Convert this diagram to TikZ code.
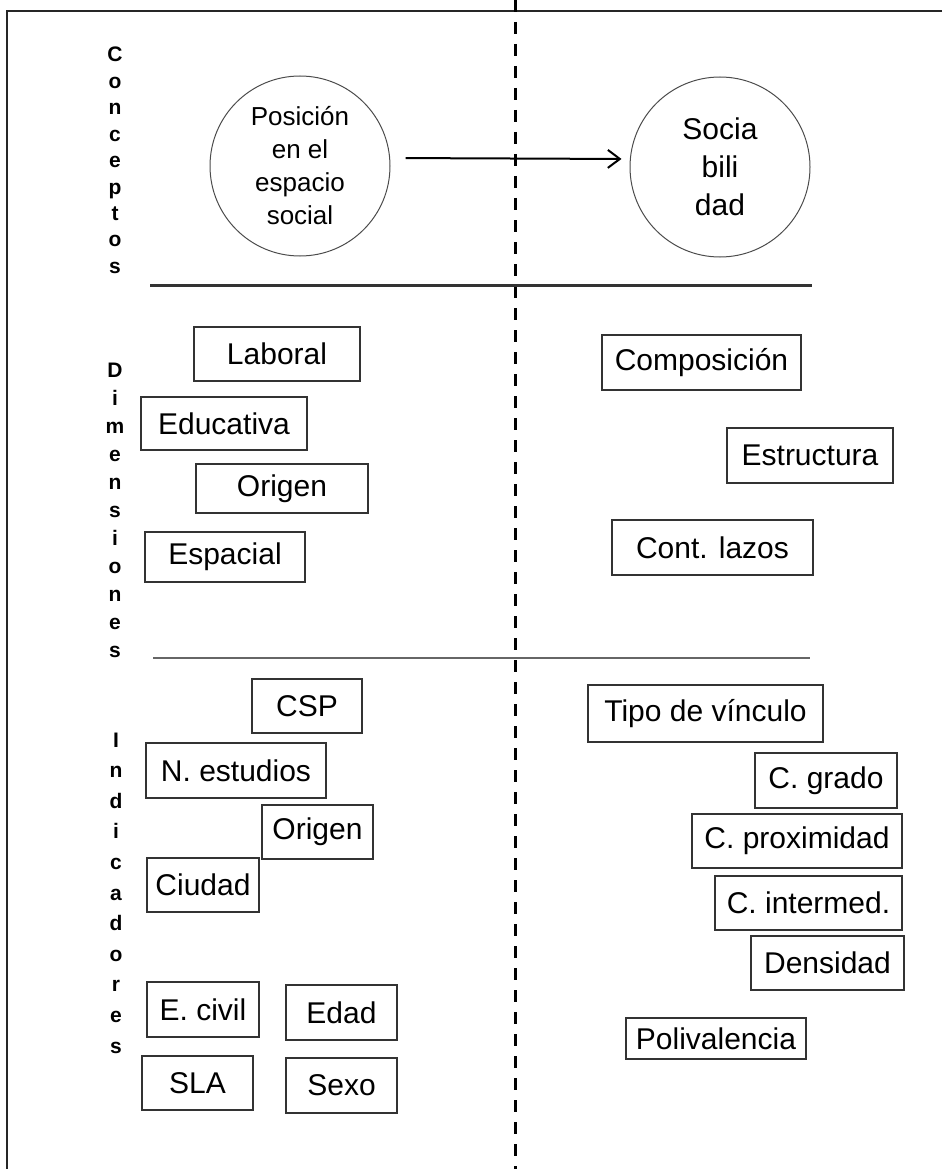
\documentclass[tikz,border=0pt]{standalone}
\usepackage{fontspec}
\setmainfont{Liberation Sans}
\usetikzlibrary{arrows.meta,positioning}

\tikzset{
  box/.style={draw=black!80, line width=1.3pt, inner sep=0pt, align=center,
    font=\fontsize{30}{36}\selectfont},
  concept/.style={draw=black!70, line width=1pt, circle, inner sep=0pt,
    minimum size=180pt, align=center},
  vletter/.style={anchor=base, inner sep=0pt, font=\fontsize{21}{24}\selectfont\bfseries},
  sepline/.style={line width=3pt, black!80},
}

\begin{document}
\begin{tikzpicture}[x=1pt, y=-1pt]
\useasboundingbox (0,0) rectangle (942,1169);

% marco y eje
\draw[line width=2pt, black!85] (942,11.5) -- (7,11.5) -- (7,1169);
\draw[line width=3pt, dash pattern=on 12pt off 10pt] (515.5,0) -- (515.5,1169);
\draw[sepline] (150,285) -- (812,285);
\draw[line width=1.5pt, black!60] (153,658) -- (810,658);

% rotulos verticales
\foreach \l [count=\i from 0] in {C,o,n,c,e,p,t,o,s}
  \node[vletter] (con\i) at (115,{62+26.4*\i}) {\l};
\foreach \l [count=\i from 0] in {D,i,m,e,n,s,i,o,n,e,s}
  \node[vletter] (dim\i) at (115,{377+28*\i}) {\l};
\foreach \l [count=\i from 0] in {I,n,d,i,c,a,d,o,r,e,s}
  \node[vletter] (ind\i) at (116,{747+30.6*\i}) {\l};

% conceptos
\node[concept, font=\fontsize{26}{33}\selectfont] (pos) at (300,166) {Posición\\en el\\espacio\\social};
\node[concept, font=\fontsize{30}{38}\selectfont] (soc) at (720,167) {Socia\\bili\\dad};
\draw[line width=2pt, -{Straight Barb[length=12pt,width=18pt]}, shorten <=15pt, shorten >=8pt]
  ([yshift=8pt]pos.east) -- ([yshift=8pt]soc.west);

% dimensiones
\node[box, minimum width=166pt, minimum height=54pt] (lab) at (277,354) {Laboral};
\node[box, minimum width=166pt, minimum height=53pt] (edu) at (224,423.5) {Educativa};
\node[box, minimum width=172pt, minimum height=49pt] (ori) at (282,488.5) {Origen};
\node[box, minimum width=160pt, minimum height=50pt] (esp) at (225,557) {Espacial};
\node[box, minimum width=199pt, minimum height=55pt] (comp) at (701.5,362.5) {Composición};
\node[box, minimum width=166pt, minimum height=55pt] (estr) at (810,455.5) {Estructura};
\node[box, minimum width=201pt, minimum height=55pt] (cont) at (712.5,547.5) {Cont. lazos};

% indicadores
\node[box, minimum width=110pt, minimum height=54pt] (csp) at (307,706) {CSP};
\node[box, minimum width=180pt, minimum height=55pt] (nest) at (236,770.5) {N. estudios};
\node[box, minimum width=111pt, minimum height=54pt] (orig) at (317.5,832) {Origen};
\node[box, minimum width=112pt, minimum height=54pt] (ciu) at (203,885) {Ciudad};
\node[box, minimum width=112pt, minimum height=55pt] (eciv) at (203,1009.5) {E. civil};
\node[box, minimum width=111pt, minimum height=55pt] (edad) at (341.5,1012.5) {Edad};
\node[box, minimum width=111pt, minimum height=54pt] (sla) at (197.5,1083) {SLA};
\node[box, minimum width=111pt, minimum height=55pt] (sexo) at (341.5,1085.5) {Sexo};
\node[box, minimum width=235pt, minimum height=57pt] (tipo) at (705.5,713.5) {Tipo de vínculo};
\node[box, minimum width=142pt, minimum height=55pt] (cgra) at (826,780.5) {C. grado};
\node[box, minimum width=210pt, minimum height=54pt] (cprox) at (797,841) {C. proximidad};
\node[box, minimum width=187pt, minimum height=54pt] (cint) at (808.5,903) {C. intermed.};
\node[box, minimum width=153pt, minimum height=54pt] (dens) at (827.5,963) {Densidad};
\node[box, minimum width=180pt, minimum height=41pt] (poli) at (716,1038.5) {Polivalencia};
\end{tikzpicture}
\end{document}
